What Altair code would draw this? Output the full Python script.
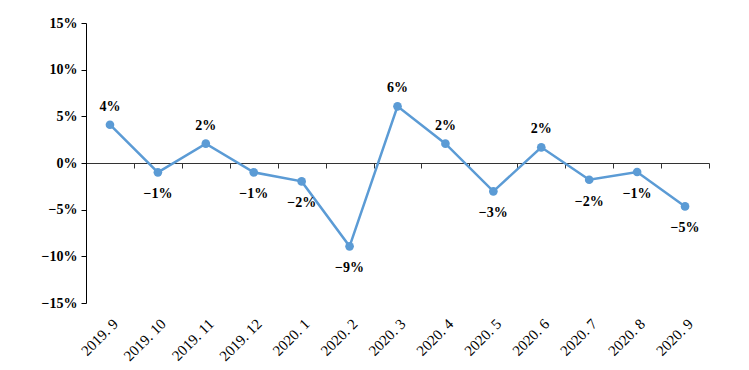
import altair as alt
import pandas as pd

months = ["2019.9", "2019.10", "2019.11", "2019.12", "2020.1", "2020.2", "2020.3",
          "2020.4", "2020.5", "2020.6", "2020.7", "2020.8", "2020.9"]
values_pct = [4.1, -1.0, 2.07, -1.0, -1.97, -8.93, 6.07, 2.07, -3.04, 1.68, -1.79, -0.96, -4.65]
y_ticks = [-0.15, -0.10, -0.05, 0.0, 0.05, 0.10, 0.15]

df = pd.DataFrame({"month": months, "value": [v / 100 for v in values_pct]})

FONT = "Liberation Serif"
BLUE = "#5B9BD5"
H = 280

x_enc = alt.X(
    "month:N", sort=months,
    scale=alt.Scale(type="band", paddingInner=0, paddingOuter=0),
    axis=alt.Axis(
        title=None, offset=-H / 2, tickBand="extent", tickSize=5, grid=False,
        domainColor="#333333", tickColor="#333333", domainWidth=1.2,
        labelAngle=-45, labelAlign="right", labelBaseline="top",
        labelPadding=H / 2 + 8, labelFont=FONT, labelFontSize=15,
        labelColor="black", labelExpr="replace(datum.label, '.', '. ')",
    ),
)
y_enc = alt.Y(
    "value:Q",
    scale=alt.Scale(domain=[-0.15, 0.15], nice=False, zero=False),
    axis=alt.Axis(
        title=None, values=y_ticks, format=".0%", grid=False, tickSize=5,
        domainColor="black", tickColor="black", labelFont=FONT, labelFontSize=14,
        labelFontWeight="bold", labelColor="black", labelPadding=4,
    ),
)

base = alt.Chart(df)
line = base.mark_line(color=BLUE, strokeWidth=2.5).encode(x=x_enc, y=y_enc)
pts = base.mark_point(color=BLUE, filled=True, size=75, opacity=1).encode(x=x_enc, y=y_enc)
pos_lbl = base.transform_filter("datum.value >= 0").mark_text(
    dy=-18, font=FONT, fontSize=14, fontWeight="bold", color="black"
).encode(x=x_enc, y=y_enc, text=alt.Text("value:Q", format=".0%"))
neg_lbl = base.transform_filter("datum.value < 0").mark_text(
    dy=22, font=FONT, fontSize=14, fontWeight="bold", color="black"
).encode(x=x_enc, y=y_enc, text=alt.Text("value:Q", format=".0%"))

chart = alt.layer(line, pts, pos_lbl, neg_lbl).properties(
    width=623, height=H,
    background="white",
    autosize=alt.AutoSizeParams(type="none"),
    padding={"left": 78, "top": 15, "right": 30, "bottom": 64},
).configure_view(stroke=None)

chart.save("out.html", embed_options={"renderer": "svg", "actions": False})
